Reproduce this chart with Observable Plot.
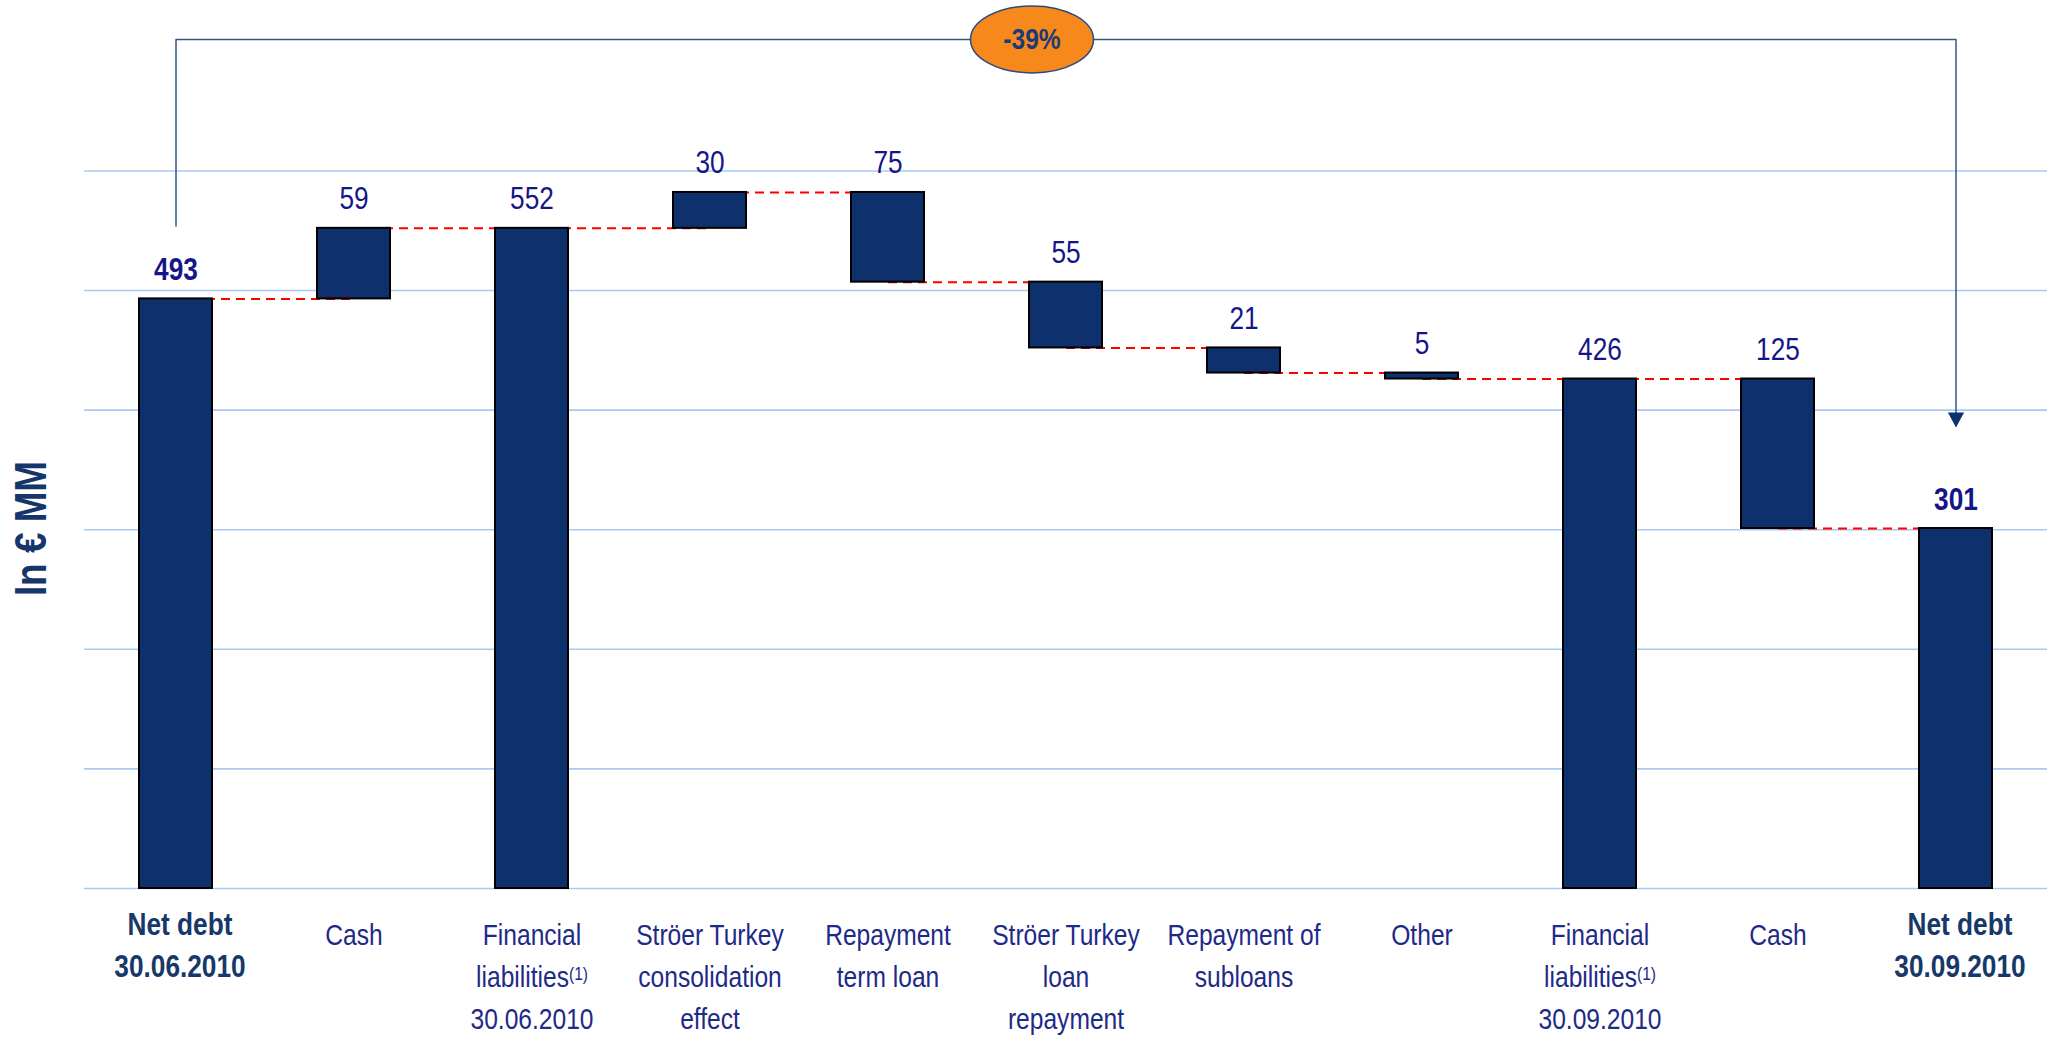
<!DOCTYPE html>
<html>
<head>
<meta charset="utf-8">
<script src="https://cdn.jsdelivr.net/npm/d3@7"></script>
<script src="https://cdn.jsdelivr.net/npm/@observablehq/plot@0.6"></script>
<style>
  html, body { margin: 0; padding: 0; background: #ffffff; }
  #chart svg { display: block; }
</style>
</head>
<body>
<div id="chart"></div>
<script>
// ---- Data ----
const categories = [
  "Net debt\n30.06.2010",
  "Cash",
  "Financial\nliabilities\n30.06.2010",
  "Ströer Turkey\nconsolidation\neffect",
  "Repayment\nterm loan",
  "Ströer Turkey\nloan\nrepayment",
  "Repayment of\nsubloans",
  "Other",
  "Financial\nliabilities\n30.09.2010",
  "Cash",
  "Net debt\n30.09.2010"
];
const kinds = ["total", "increase", "total", "increase", "decrease", "decrease", "decrease", "decrease", "total", "decrease", "total"];
const values = [493, 59, 552, 30, 75, 55, 21, 5, 426, 125, 301];
const boldCategories = [0, 10];          // "Net debt" start and end
const footnoteWord = "liabilities";
const footnoteMark = "(1)";
const yTicks = [0, 100, 200, 300, 400, 500, 600];
const yTitle = "In € MM";
const yTitleLevel = 301;      // vertical centre of the rotated title
const changeLabel = "-39%";
const bracketLevel = 710;     // level of the bracket line above the chart
const bracketStart = 554;     // bottom of the left leg (above "493")
const bracketEnd = 397;       // bottom of the right leg (arrow head)
const arrowLevel = 392;

// ---- Derived table for the waterfall ----
let running = 0;
const bars = values.map((v, i) => {
  let y1, y2;
  if (kinds[i] === "total") { y1 = 0; y2 = v; running = v; }
  else if (kinds[i] === "increase") { y1 = running; y2 = running + v; running = y2; }
  else { y1 = running - v; y2 = running; running = y1; }
  return { i, label: String(v), y1, y2, top: Math.max(y1, y2), end: running, bold: boldCategories.includes(i) };
});
const connectors = bars.slice(0, -1).map((b, j) => ({ x1: b.i, x2: bars[j + 1].i, y: b.end }));
const first = 0, last = categories.length - 1;
const bracket = [
  { x: first, y: bracketStart },
  { x: first, y: bracketLevel },
  { x: last, y: bracketLevel },
  { x: last, y: bracketEnd }
];

const FONT = "'Liberation Sans', Arial, sans-serif";
const NAVY = "#0e306d";

const ellipseSymbol = {
  draw(ctx, size) {
    const ry = Math.sqrt(size / Math.PI), rx = ry * 1.836, k = 0.5523;
    ctx.moveTo(rx, 0);
    ctx.bezierCurveTo(rx, ry * k, rx * k, ry, 0, ry);
    ctx.bezierCurveTo(-rx * k, ry, -rx, ry * k, -rx, 0);
    ctx.bezierCurveTo(-rx, -ry * k, -rx * k, -ry, 0, -ry);
    ctx.bezierCurveTo(rx * k, -ry, rx, -ry * k, rx, 0);
    ctx.closePath();
  }
};
const triangleDown = {
  draw(ctx, size) {
    const r = Math.sqrt(size / Math.PI);
    ctx.moveTo(-r * 1.35, -r * 1.2);
    ctx.lineTo(r * 1.35, -r * 1.2);
    ctx.lineTo(0, r * 1.3);
    ctx.closePath();
  }
};

const otherIdx = d3.range(categories.length).filter(i => !boldCategories.includes(i));

const chart = Plot.plot({
  width: 2051,
  height: 1039,
  marginLeft: 84,
  marginRight: 4,
  marginTop: 3,
  marginBottom: 151,
  x: { type: "band", domain: d3.range(categories.length), paddingInner: 0.59, paddingOuter: 0.295, axis: null },
  y: { domain: [0, 740], axis: null },
  style: { fontFamily: FONT, background: "#ffffff", overflow: "visible" },
  marks: [
    Plot.gridY(yTicks, { stroke: "#abc9f0", strokeOpacity: 1, strokeWidth: 1.6 }),
    Plot.link(connectors, { x1: "x1", x2: "x2", y1: "y", y2: "y", stroke: "#ff0000", strokeWidth: 2, strokeDasharray: "9,6" }),
    Plot.barY(bars, { x: "i", y1: "y1", y2: "y2", fill: NAVY, stroke: "#000000", strokeWidth: 2 }),
    Plot.line(bracket, { x: "x", y: "y", stroke: "#34558a", strokeWidth: 1.5 }),
    Plot.dot([{ x: last, y: arrowLevel }], { x: "x", y: "y", symbol: triangleDown, r: 6, fill: NAVY, stroke: "none" }),
    Plot.dot([{ x: 5, y: bracketLevel }], { x: "x", y: "y", symbol: ellipseSymbol, r: 33.5, dx: -34, fill: "#f7891c", stroke: "#2c4a7c", strokeWidth: 1.5 }),
    Plot.text([{ x: 5, y: bracketLevel, t: changeLabel }], { x: "x", y: "y", text: "t", dx: -34, fontSize: 30, fontWeight: "bold", fill: "#1c3a78" }),
    Plot.text(bars.filter(d => !d.bold), { x: "i", y: "top", text: "label", dy: -19, lineAnchor: "bottom", fontSize: 32, fill: "#15158a" }),
    Plot.text(bars.filter(d => d.bold), { x: "i", y: "top", text: "label", dy: -19, lineAnchor: "bottom", fontSize: 32, fontWeight: "bold", fill: "#15158a" }),
    Plot.axisX(otherIdx, { anchor: "bottom", tickSize: 0, tickPadding: 27, fontSize: 30, lineHeight: 1.4, fill: "#1e2a88", tickFormat: i => categories[i], label: null }),
    Plot.axisX(boldCategories, { anchor: "bottom", tickSize: 0, tickPadding: 17, fontSize: 32, lineHeight: 1.3, fontWeight: "bold", fill: "#173869", tickFormat: i => categories[i], label: null, dx: 4 }),
    Plot.text([{ t: yTitle, y: yTitleLevel }], { frameAnchor: "left", y: "y", text: "t", rotate: -90, textAnchor: "middle", lineAnchor: "middle", dx: -53, fontSize: 45, fontWeight: "bold", fill: "#16366b" })
  ]
});

// superscript footnote marker after "liabilities"
d3.select(chart).selectAll("tspan")
  .filter(function () { return this.textContent === footnoteWord; })
  .append("tspan")
  .attr("font-size", 19)
  .attr("font-weight", "normal")
  .attr("baseline-shift", 8)
  .text(footnoteMark);

// narrow (condensed) lettering as in the original: squeeze each label along its reading direction
d3.select(chart).selectAll("text").each(function () {
  const t = this.getAttribute("transform") || "";
  this.setAttribute("transform", t + " scale(0.82,1)");
});

document.getElementById("chart").appendChild(chart);
</script>
</body>
</html>
